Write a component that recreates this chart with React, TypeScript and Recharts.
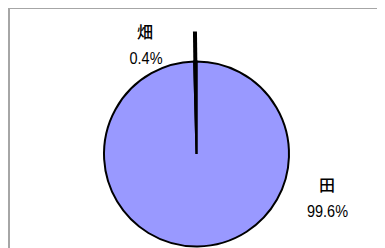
import React from "react";
import { PieChart, Pie, Cell } from "recharts";

const categories = ["田", "畑"];
const shares = [99.6, 0.4];
const percentLabels = ["99.6%", "0.4%"];

const data = categories.map((name, i) => ({ name, value: shares[i], pct: percentLabels[i] }));

const COLORS = ["#9999FF", "#000000"];
// label placement relative to pie centre (style only)
const LABEL_POS = [
  { nx: 130.5, ny: 30, px: 131, py: 63, pw: 41 },
  { nx: -51.5, ny: -123, px: -50.5, py: -90, pw: 33 },
];

const RAD = Math.PI / 180;

const renderLabel = (props: any) => {
  const { cx, cy, index, midAngle, outerRadius } = props;
  const p = LABEL_POS[index];
  const d = data[index];
  const extras: React.ReactNode[] = [];
  if (index === 1) {
    const x1 = cx + outerRadius * Math.cos(-midAngle * RAD);
    const y1 = cy + outerRadius * Math.sin(-midAngle * RAD);
    const x2 = cx + (outerRadius + 30) * Math.cos(-midAngle * RAD);
    const y2 = cy + (outerRadius + 30) * Math.sin(-midAngle * RAD);
    extras.push(<line key="l" x1={x1} y1={y1} x2={x2} y2={y2} stroke="#000" strokeWidth={4} />);
  }
  return (
    <g>
      {extras}
      <text
        x={cx + p.nx}
        y={cy + p.ny}
        textAnchor="middle"
        dominantBaseline="central"
        fontFamily="'Noto Sans CJK JP', sans-serif"
        fontSize={16}
        fontWeight={500}
        fill="#000"
        stroke="none"
      >
        {d.name}
      </text>
      <text
        x={cx + p.px - p.pw / 2}
        y={cy + p.py}
        textAnchor="start"
        fontFamily="'Liberation Sans', sans-serif"
        fontSize={17}
        textLength={p.pw}
        lengthAdjust="spacingAndGlyphs"
        fill="#000"
        stroke="none"
      >
        {d.pct}
      </text>
    </g>
  );
};

export default function App() {
  return (
    <div
      style={{
        position: "relative",
        marginTop: -1,
        width: 400,
        height: 260,
        border: "2px solid #a6a6a6",
        boxSizing: "border-box",
        background: "#fff",
      }}
    >
      <div style={{ position: "absolute", left: -2, top: -2 }}>
        <PieChart width={400} height={260} margin={{ top: 0, right: 0, bottom: 0, left: 0 }}>
          <Pie
            data={data}
            dataKey="value"
            nameKey="name"
            cx={188.5}
            cy={147}
            outerRadius={92.5}
            startAngle={90}
            endAngle={-270}
            stroke="#000"
            strokeWidth={2}
            label={renderLabel}
            labelLine={false}
            isAnimationActive={false}
          >
            {data.map((d, i) => (
              <Cell key={d.name} fill={COLORS[i]} />
            ))}
          </Pie>
        </PieChart>
      </div>
    </div>
  );
}
